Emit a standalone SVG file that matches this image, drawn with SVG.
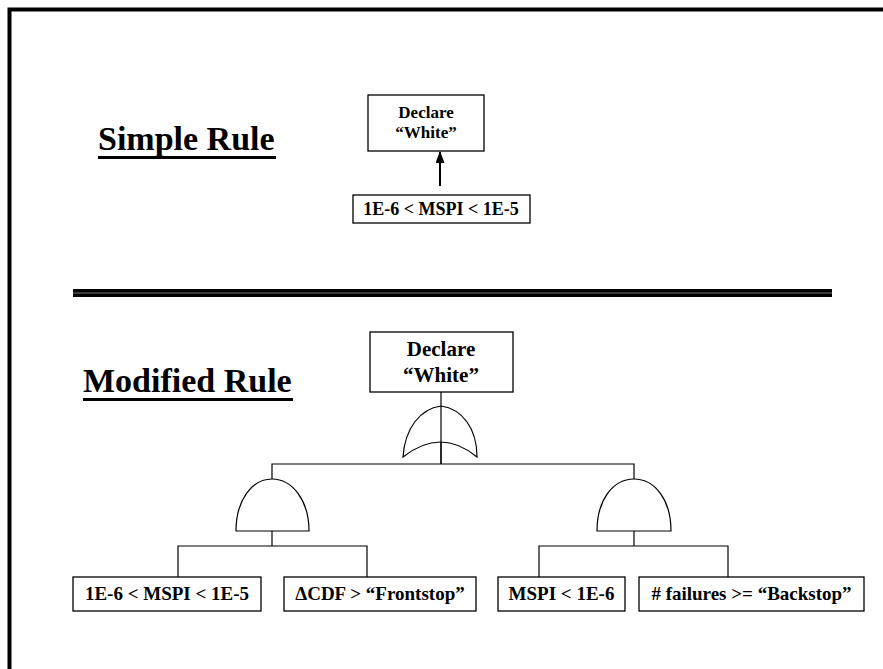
<svg xmlns="http://www.w3.org/2000/svg" width="883" height="669" viewBox="0 0 883 669">
<style>
.box{fill:#fff;stroke:#000;stroke-width:1.3}
.ln{fill:none;stroke:#000;stroke-width:1.2}
.gate{fill:#fff;stroke:#000;stroke-width:1.2}
.t{font-family:"Liberation Serif","Times New Roman",serif;font-weight:bold;fill:#000;text-anchor:middle}
.h{font-family:"Liberation Serif","Times New Roman",serif;font-weight:bold;fill:#000;font-size:34px}
</style>
<defs>
<marker id="ah" markerWidth="12" markerHeight="9" refX="11" refY="4.5" orient="auto" markerUnits="userSpaceOnUse" viewBox="0 0 12 9">
<path d="M0,0 L12,4.5 L0,9 Z" fill="#000"/>
</marker>
</defs>
<rect width="883" height="669" fill="#fff"/>
<path d="M9.5,669 V9.5 H883" fill="none" stroke="#000" stroke-width="4"/>
<g id="titles">
<text class="h" x="98" y="150">Simple Rule</text>
<rect x="98" y="156" width="178" height="3" fill="#000"/>
<text class="h" x="83" y="392">Modified Rule</text>
<rect x="83" y="398" width="210" height="3" fill="#000"/>
</g>
<g id="separator">
<rect x="73" y="289" width="759" height="8" fill="#000"/>
<line x1="73" y1="293" x2="832" y2="293" stroke="#777" stroke-width="1"/>
</g>
<g id="connectors">
<line x1="440" y1="186" x2="440" y2="152" stroke="#000" stroke-width="2" marker-end="url(#ah)"/>
<line class="ln" x1="441" y1="392" x2="441" y2="464"/>
<polyline class="ln" points="272,479 272,464 634,464 634,479"/>
<line class="ln" x1="272" y1="531" x2="272" y2="546"/>
<polyline class="ln" points="178,577 178,546 367,546 367,577"/>
<line class="ln" x1="634" y1="531" x2="634" y2="546"/>
<polyline class="ln" points="539,577 539,546 728,546 728,577"/>
</g>
<g id="simple-declare">
<rect class="box" x="368" y="95" width="116" height="56"/>
<text class="t" x="426" y="118" font-size="17">Declare</text>
<text class="t" x="426" y="138" font-size="17">“White”</text>
</g>
<g id="simple-condition">
<rect class="box" x="353" y="195" width="177" height="28"/>
<text class="t" x="441" y="215" font-size="18">1E-6 &lt; MSPI &lt; 1E-5</text>
</g>
<g id="mod-declare">
<rect class="box" x="370" y="332" width="143" height="60"/>
<text class="t" x="441" y="356" font-size="21">Declare</text>
<text class="t" x="441" y="382" font-size="21">“White”</text>
</g>
<g id="or-gate">
<path class="gate" d="M403,457 C405,428 420,409 441,406 C462,409 477,428 477,457 Q441,427 403,457 Z"/>
<line class="ln" x1="441" y1="406" x2="441" y2="464"/>
</g>
<g id="and-gate-left">
<path class="gate" d="M236,531 C236,500 252,479 272,479 C292,479 309,500 309,531 Z"/>
</g>
<g id="and-gate-right">
<path class="gate" d="M597,531 C597,500 613,479 634,479 C655,479 671,500 671,531 Z"/>
</g>
<g id="cond1">
<rect class="box" x="73" y="577" width="188" height="34"/>
<text class="t" x="167" y="600" font-size="19">1E-6 &lt; MSPI &lt; 1E-5</text>
</g>
<g id="cond2">
<rect class="box" x="284" y="577" width="192" height="34"/>
<text class="t" x="380" y="600" font-size="19">ΔCDF &gt; “Frontstop”</text>
</g>
<g id="cond3">
<rect class="box" x="498" y="577" width="127" height="34"/>
<text class="t" x="561.5" y="600" font-size="19">MSPI &lt; 1E-6</text>
</g>
<g id="cond4">
<rect class="box" x="639" y="577" width="225" height="34"/>
<text class="t" x="751.5" y="600" font-size="19"># failures &gt;= “Backstop”</text>
</g>
</svg>
